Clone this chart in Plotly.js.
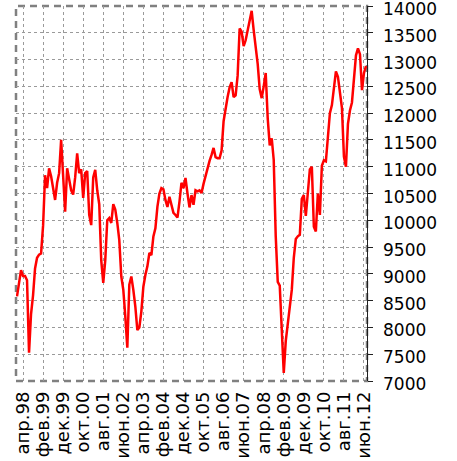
<!DOCTYPE html>
<html>
<head>
<meta charset="utf-8">
<script src="https://cdn.plot.ly/plotly-3.0.1.min.js"></script>
<style>
html,body{margin:0;padding:0;background:#fff;}
#chart{width:457px;height:461px;}
</style>
</head>
<body>
<div id="chart"></div>
<script>
// Monthly values, Jan 1998 .. Jul 2012 (175 months)
const values = [
  8580, 8850, 9070, 8960, 8960, 8880, 7530, 8250, 8600, 9100,
  9300, 9360, 9380, 9900, 10840, 10600, 10970, 10820, 10600, 10380,
  10700, 10880, 11500, 10800, 10160, 10970, 10750, 10560, 10480, 10800,
  11250, 10880, 10950, 10420, 10880, 10920, 10100, 9910, 10800, 10940,
  10560, 10300, 9250, 8830, 9250, 10000, 10040, 9950, 10300, 10200,
  9950, 9630, 8950, 8700, 8200, 7620, 8800, 8950, 8700, 8390,
  7950, 8000, 8300, 8760, 8980, 9140, 9390, 9350, 9700, 9850,
  10250, 10500, 10600, 10580, 10380, 10250, 10440, 10300, 10140, 10100,
  10050, 10350, 10700, 10600, 10790, 10500, 10240, 10470, 10290, 10560,
  10540, 10560, 10510, 10680, 10830, 10950, 11110, 11220, 11350, 11180,
  11160, 11160, 11300, 11850, 12120, 12300, 12480, 12580, 12300, 12330,
  12700, 13580, 13520, 13250, 13360, 13540, 13700, 13910, 13550, 13260,
  12920, 12450, 12280, 12500, 12750, 11900, 11400, 11530, 11126, 9700,
  8850, 8780, 7900, 7150, 7750, 8100, 8480, 8700, 9300, 9650,
  9700, 9730, 10400, 10470, 10080, 10450, 10950, 11000, 9880, 9790,
  10500, 10100, 11020, 11120, 11100, 11550, 12000, 12150, 12450, 12780,
  12680, 12430, 12100, 11190, 11000, 11800, 12050, 12200, 12620, 13080,
  13210, 13100, 12430, 12750, 12880
];
const tickLabels = ['апр.98','фев.99','дек.99','окт.00','авг.01','июн.02','апр.03','фев.04','дек.04','окт.05','авг.06','июн.07','апр.08','фев.09','дек.09','окт.10','авг.11','июн.12'];
const yTicks = [7000, 7500, 8000, 8500, 9000, 9500, 10000, 10500, 11000, 11500, 12000, 12500, 13000, 13500, 14000];
const firstLabelIndex = 3, labelStep = 10;

const xs = values.map((v, i) => i);
const tickVals = tickLabels.map((t, k) => firstLabelIndex + labelStep * k);

const font = {family: 'DejaVu Sans, sans-serif', size: 17, color: '#000'};
const xFont = {family: 'DejaVu Sans, sans-serif', size: 18, color: '#000'};

// y tick labels drawn as annotations (slightly below their ticks, as in the reference)
const yLabelAnnotations = yTicks.map(v => ({
  xref: 'paper', yref: 'y', x: 1, y: v, text: String(v),
  xanchor: 'left', yanchor: 'middle', xshift: 14, yshift: -3,
  showarrow: false, font: font
}));

Plotly.newPlot('chart', [{
  x: xs, y: values, type: 'scatter', mode: 'lines',
  line: {color: '#ff0000', width: 2.5},
  hoverinfo: 'skip', cliponaxis: false
}], {
  width: 457, height: 461,
  margin: {l: 16, r: 90, t: 6, b: 80, pad: 0},
  paper_bgcolor: '#fff', plot_bgcolor: '#fff',
  showlegend: false,
  font: font,
  xaxis: {
    range: [-0.5, 174.5],
    tickmode: 'array', tickvals: tickVals, ticktext: tickLabels,
    tickangle: -90, ticks: '', ticklen: 0,
    showgrid: true, gridcolor: '#9a9a9a', gridwidth: 1, griddash: 'dot',
    zeroline: false, showline: false, tickfont: xFont,
    ticklabelstandoff: 6, ticklabeloverflow: 'allow'
  },
  yaxis: {
    side: 'right', range: [7000, 14000],
    tickmode: 'array', tickvals: yTicks, showticklabels: false,
    showgrid: true, gridcolor: '#9a9a9a', gridwidth: 1, griddash: 'dot',
    zeroline: false, showline: true, linecolor: '#202020', linewidth: 1,
    ticks: 'outside', ticklen: 5, tickcolor: '#202020'
  },
  annotations: yLabelAnnotations,
  shapes: [{
    type: 'rect', xref: 'paper', yref: 'paper', x0: 0, x1: 1, y0: 0, y1: 1,
    line: {color: '#808080', width: 2.5, dash: '7px,5px'}, layer: 'below'
  }]
}, {staticPlot: true, displayModeBar: false});
</script>
</body>
</html>
